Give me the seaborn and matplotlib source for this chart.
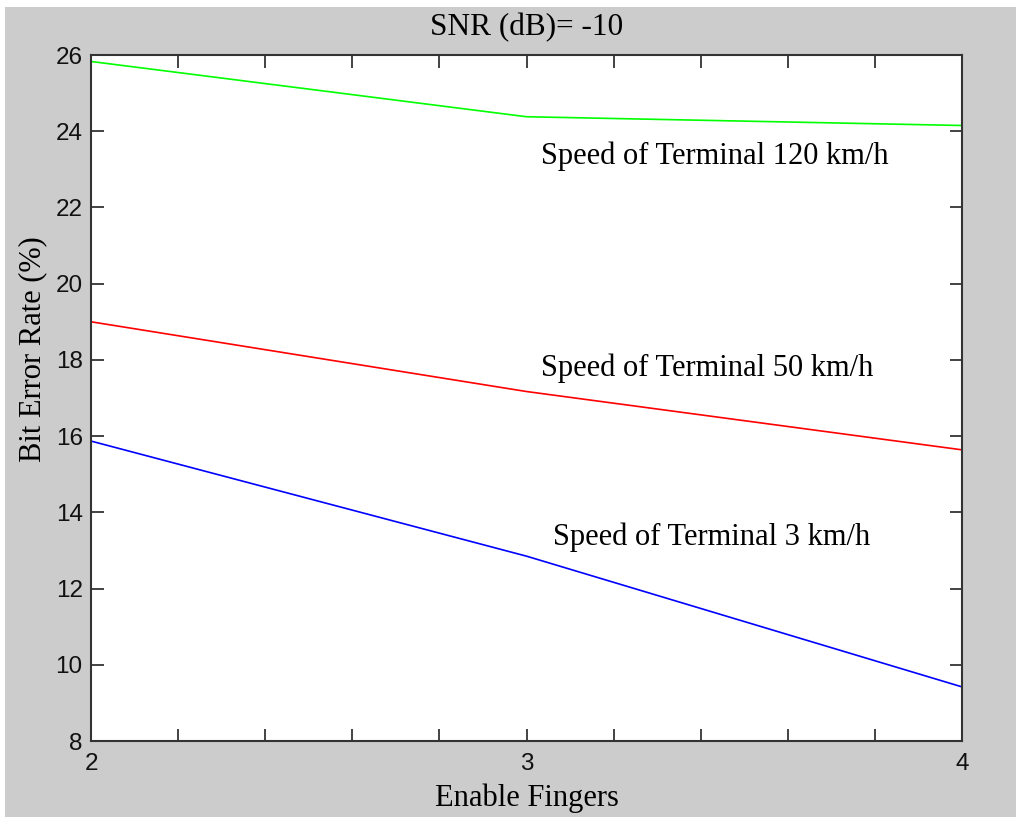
import matplotlib
matplotlib.use("Agg")
import matplotlib.pyplot as plt
import matplotlib.patches as mpatches
import numpy as np
import pandas as pd
import seaborn as sns

# ---- data ----
fingers = [2, 3, 4]
ber_120 = [25.83, 24.38, 24.15]
ber_50 = [19.0, 17.17, 15.64]
ber_3 = [15.87, 12.85, 9.42]
series_names = ["Speed of Terminal 120 km/h", "Speed of Terminal 50 km/h", "Speed of Terminal 3 km/h"]
series_colors = ["#00ff00", "#ff0000", "#0000ff"]
label_pos = [(3.034, 23.14), (3.034, 17.59), (3.06, 13.13)]
y_ticks = [8, 10, 12, 14, 16, 18, 20, 22, 24, 26]
x_ticks = [2.0, 2.2, 2.4, 2.6, 2.8, 3.0, 3.2, 3.4, 3.6, 3.8, 4.0]
x_ticklabels = ["2", "", "", "", "", "3", "", "", "", "", "4"]

sns.set_style("ticks")
plt.rcParams["font.family"] = ["Liberation Sans", "DejaVu Sans"]

W, H = 1016, 817
fig = plt.figure(figsize=(W / 100, H / 100), dpi=100)
fig.patch.set_facecolor("white")
fig.patches.append(mpatches.Rectangle((5 / W, 0), 1, (H - 7) / H, transform=fig.transFigure,
                                      facecolor="#cccccc", edgecolor="none", zorder=-10))

ax = fig.add_axes([91 / W, (H - 741) / H, (962 - 91) / W, (741 - 55) / H])
ax.set_facecolor("white")

df = pd.DataFrame({
    "x": fingers * 3,
    "y": ber_120 + ber_50 + ber_3,
    "s": [series_names[0]] * 3 + [series_names[1]] * 3 + [series_names[2]] * 3,
})
sns.lineplot(data=df, x="x", y="y", hue="s", palette=dict(zip(series_names, series_colors)),
             ax=ax, legend=False, linewidth=1.2, estimator=None, sort=False)

for name, (tx, ty) in zip(series_names, label_pos):
    ax.text(tx, ty, name, family="Liberation Serif", fontsize=22, color="black",
            ha="left", va="baseline")

ax.set_xlim(2, 4)
ax.set_ylim(8, 26)
ax.set_xticks(x_ticks)
ax.set_xticklabels(x_ticklabels)
ax.set_yticks(y_ticks)
ax.set_yticklabels([str(v) for v in y_ticks])
ax.tick_params(axis="both", direction="in", length=9, width=1.2, color="#222222",
               labelsize=17.5, top=True, right=True, labelcolor="#111111")
ax.tick_params(axis="y", pad=6)
ax.tick_params(axis="x", pad=9)
for sp in ax.spines.values():
    sp.set_visible(True)
    sp.set_linewidth(1.5)
    sp.set_color("#333333")

ax.set_xlabel("Enable Fingers", family="Liberation Serif", fontsize=22, color="black")
ax.set_ylabel("Bit Error Rate (%)", family="Liberation Serif", fontsize=22, color="black")
ax.yaxis.set_label_coords(-0.05, 0.571)
ax.xaxis.set_label_coords(0.5, -0.062)
ax.set_title("SNR (dB)= -10", family="Liberation Serif", fontsize=22.5, pad=14, color="black")

fig.savefig("out.png", dpi=100, facecolor=fig.get_facecolor())
